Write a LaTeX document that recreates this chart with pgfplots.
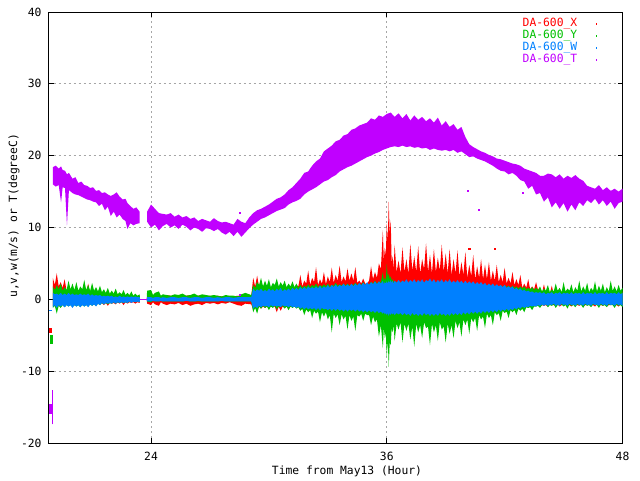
\documentclass[border=0pt]{standalone}
\usepackage{fontspec}
\setmainfont{DejaVu Sans Mono}
\usepackage{pgfplots}
\pgfplotsset{compat=1.18}
\usepgfplotslibrary{fillbetween}
\usepackage{pgfplotstable}
\definecolor{cX}{HTML}{FF0000}
\definecolor{cY}{HTML}{00C000}
\definecolor{cW}{HTML}{0080FF}
\definecolor{cT}{HTML}{C000FF}

\pgfplotstableread{
x xlo xhi ylo yhi wlo whi
19.0 -0.9 3.0 -1.2 1.8 -1.1 0.9
19.1 -0.7 2.0 -0.9 1.3 -0.8 0.7
19.2 -0.8 3.6 -2.0 2.0 -1.2 0.8
19.3 -0.7 1.8 -0.9 1.4 -0.8 0.6
19.4 -1.0 2.4 -1.2 2.2 -1.0 0.9
19.5 -0.7 1.6 -0.8 1.2 -0.8 0.6
19.6 -0.9 2.8 -1.1 1.7 -1.1 0.8
19.7 -0.7 1.2 -0.8 1.3 -0.8 0.6
19.8 -0.8 1.6 -1.0 2.6 -1.0 0.9
19.9 -0.7 1.0 -0.8 1.4 -0.8 0.6
20.0 -0.9 1.4 -1.1 2.2 -1.2 0.8
20.1 -0.7 1.0 -0.8 1.3 -0.8 0.6
20.2 -0.8 1.8 -1.0 2.4 -1.0 0.7
20.3 -0.7 0.9 -0.8 1.2 -0.8 0.6
20.4 -1.0 1.2 -1.1 1.8 -1.1 0.8
20.5 -0.7 0.9 -0.8 1.4 -0.8 0.6
20.6 -0.9 1.6 -1.0 2.7 -1.0 0.7
20.7 -0.7 1.0 -0.8 1.3 -0.8 0.6
20.8 -0.8 2.2 -1.0 2.0 -1.1 0.8
20.9 -0.6 0.8 -0.7 1.2 -0.7 0.5
21.0 -0.7 1.0 -0.9 2.3 -0.9 0.7
21.1 -0.6 0.8 -0.7 1.2 -0.7 0.5
21.2 -0.8 1.4 -0.9 1.7 -1.0 0.6
21.3 -0.6 0.7 -0.6 1.1 -0.6 0.5
21.4 -0.7 1.0 -0.8 1.9 -0.8 0.6
21.5 -0.5 0.6 -0.5 1.0 -0.5 0.4
21.6 -0.8 0.9 -0.7 1.4 -0.7 0.5
21.7 -0.5 0.6 -0.5 0.9 -0.5 0.4
21.8 -0.9 1.1 -0.7 1.6 -0.6 0.5
21.9 -0.5 0.6 -0.5 0.8 -0.5 0.4
22.0 -0.6 0.8 -0.6 1.2 -0.6 0.5
22.1 -0.5 0.5 -0.4 0.8 -0.4 0.3
22.2 -0.7 1.0 -0.6 1.5 -0.6 0.4
22.3 -0.4 0.5 -0.4 0.7 -0.4 0.3
22.4 -0.6 0.7 -0.5 1.0 -0.5 0.5
22.5 -0.4 0.5 -0.4 0.7 -0.4 0.3
22.6 -0.8 0.8 -0.5 1.3 -0.5 0.4
22.7 -0.4 0.4 -0.4 0.6 -0.4 0.3
22.8 -0.6 0.6 -0.5 0.9 -0.5 0.4
22.9 -0.4 0.4 -0.3 0.6 -0.3 0.3
23.0 -0.5 0.7 -0.4 1.1 -0.5 0.4
23.1 -0.4 0.4 -0.3 0.5 -0.3 0.3
23.2 -0.6 0.6 -0.4 0.8 -0.4 0.4
23.3 -0.4 0.4 -0.3 0.5 -0.3 0.3
23.42 -0.5 0.5 -0.4 0.7 -0.4 0.3
23.44 0 0 0 0 0 0
23.78 0 0 0 0 0 0
23.8 -0.6 0.4 -0.3 1.2 -0.3 0.3
24.0 -0.8 0.5 -0.4 1.3 -0.3 0.3
24.1 -0.4 0.3 -0.2 0.6 -0.2 0.2
24.2 -0.7 0.4 -0.3 0.9 -0.3 0.3
24.4 -0.9 0.5 -0.3 1.1 -0.3 0.3
24.5 -0.4 0.3 -0.2 0.5 -0.2 0.2
24.6 -0.6 0.4 -0.3 0.7 -0.3 0.3
24.8 -0.8 0.6 -0.3 0.6 -0.3 0.2
25.0 -0.6 0.5 -0.3 0.5 -0.3 0.3
25.2 -0.7 0.4 -0.3 0.7 -0.3 0.3
25.4 -0.5 0.5 -0.3 0.6 -0.3 0.2
25.6 -0.8 0.4 -0.3 0.8 -0.3 0.3
25.8 -0.6 0.5 -0.2 0.5 -0.2 0.3
26.0 -0.9 0.6 -0.3 0.6 -0.3 0.2
26.2 -0.7 0.4 -0.3 0.8 -0.3 0.3
26.4 -0.6 0.5 -0.3 0.5 -0.2 0.3
26.6 -0.8 0.6 -0.3 0.7 -0.3 0.2
26.8 -0.5 0.4 -0.3 0.6 -0.3 0.3
27.0 -0.6 0.5 -0.3 0.5 -0.3 0.3
27.2 -0.5 0.4 -0.3 0.6 -0.3 0.2
27.4 -0.7 0.5 -0.3 0.5 -0.3 0.3
27.6 -0.5 0.4 -0.2 0.4 -0.2 0.2
27.8 -0.6 0.5 -0.3 0.6 -0.3 0.3
28.0 -0.4 0.4 -0.3 0.5 -0.3 0.3
28.2 -0.6 0.4 -0.3 0.5 -0.3 0.2
28.4 -0.8 0.5 -0.3 0.4 -0.3 0.3
28.6 -0.9 0.4 -0.3 0.7 -0.3 0.3
28.8 -0.6 0.5 -0.3 0.9 -0.3 0.3
29.1 -0.7 0.4 -0.3 0.6 -0.3 0.3
29.2 -1.4 3.0 -1.8 2.0 -1.3 1.5
29.3 -1.0 1.8 -1.2 1.6 -1.0 1.1
29.4 -1.5 3.3 -2.0 2.4 -1.2 1.4
29.5 -1.0 1.7 -1.0 2.0 -0.9 1.2
29.6 -1.3 2.2 -1.3 3.0 -1.1 1.5
29.7 -1.0 1.3 -0.9 1.8 -0.9 1.1
29.8 -1.2 1.6 -1.2 2.6 -1.0 1.3
29.9 -1.0 1.1 -1.0 1.9 -0.9 1.1
30.0 -1.0 1.4 -1.5 2.8 -1.1 1.5
30.1 -1.0 1.2 -1.0 1.7 -0.8 1.2
30.2 -1.1 1.8 -1.2 2.3 -1.0 1.4
30.3 -1.0 1.3 -0.9 2.0 -0.9 1.1
30.4 -1.8 1.2 -1.4 2.9 -1.0 1.5
30.5 -1.0 1.2 -1.0 1.8 -0.9 1.2
30.6 -1.6 2.0 -1.1 2.4 -1.1 1.6
30.7 -1.0 1.3 -0.9 1.9 -0.8 1.1
30.8 -1.2 1.5 -1.3 2.6 -1.0 1.4
30.9 -1.0 1.2 -1.0 1.7 -0.9 1.2
31.0 -1.4 1.8 -1.5 2.2 -1.1 1.5
31.1 -1.0 1.5 -1.0 1.8 -0.9 1.2
31.2 -1.0 2.4 -1.2 2.5 -1.1 1.6
31.3 -1.0 1.4 -1.0 1.7 -1.0 1.3
31.4 -1.1 2.0 -1.3 2.2 -1.2 1.6
31.5 -1.0 1.8 -1.1 1.6 -1.0 1.3
31.6 -1.2 3.4 -1.6 2.0 -1.3 1.7
31.7 -1.0 1.8 -1.3 1.6 -1.1 1.4
31.8 -1.1 2.6 -2.2 1.9 -1.4 1.7
31.9 -1.0 2.2 -1.4 1.7 -1.1 1.4
32.0 -1.0 4.0 -1.8 2.1 -1.4 1.8
32.1 -1.0 2.0 -1.5 1.7 -1.2 1.5
32.2 -1.2 3.0 -2.6 2.0 -1.4 1.7
32.3 -1.0 2.4 -1.6 1.8 -1.2 1.5
32.4 -1.1 4.5 -2.0 2.2 -1.5 1.8
32.5 -1.0 2.0 -1.7 1.7 -1.2 1.5
32.6 -1.3 2.8 -3.2 2.0 -1.5 1.9
32.7 -1.0 2.2 -1.8 1.8 -1.2 1.5
32.8 -1.0 3.8 -2.4 2.1 -1.4 1.8
32.9 -1.0 2.1 -1.8 1.8 -1.3 1.6
33.0 -1.2 3.2 -2.8 2.2 -1.5 2.0
33.1 -1.0 2.4 -2.2 1.8 -1.3 1.6
33.2 -1.3 4.4 -4.6 2.0 -1.6 2.0
33.3 -1.0 2.3 -2.0 1.9 -1.3 1.7
33.4 -1.1 3.4 -2.6 2.3 -1.6 2.1
33.5 -1.0 2.6 -2.1 1.9 -1.3 1.7
33.6 -1.2 4.7 -3.6 2.1 -1.6 2.0
33.7 -1.0 2.4 -2.1 1.9 -1.4 1.8
33.8 -1.3 3.2 -2.8 2.2 -1.7 2.2
33.9 -1.0 2.5 -2.3 1.9 -1.4 1.8
34.0 -1.2 4.3 -4.2 2.2 -1.7 2.1
34.1 -1.0 2.6 -2.2 1.9 -1.4 1.8
34.2 -1.1 3.6 -3.0 2.1 -1.6 2.2
34.3 -1.0 2.6 -2.4 2.0 -1.4 1.8
34.4 -1.4 4.5 -4.4 2.3 -1.7 2.2
34.5 -1.0 2.3 -2.2 2.0 -1.4 1.9
34.6 -1.2 2.6 -2.4 2.2 -1.7 2.3
34.7 -1.0 2.2 -2.0 2.0 -1.5 1.9
34.8 -1.3 2.9 -3.0 2.4 -1.8 2.3
34.9 -1.0 2.2 -2.0 2.0 -1.5 2.0
35.0 -1.2 2.2 -2.2 2.2 -1.8 2.4
35.1 -1.0 2.6 -2.2 2.1 -1.5 2.0
35.2 -1.4 4.6 -3.6 2.4 -1.8 2.4
35.3 -1.1 2.8 -2.4 2.2 -1.6 2.1
35.4 -1.3 3.8 -3.2 2.6 -1.9 2.5
35.5 -1.1 3.0 -2.8 2.2 -1.6 2.1
35.6 -1.4 5.0 -5.2 2.5 -1.9 2.5
35.7 -1.2 4.2 -3.6 2.4 -1.7 2.2
35.8 -1.5 9.6 -6.8 3.8 -2.0 2.6
35.85 -1.2 5.4 -4.0 2.6 -1.8 2.1
35.9 -1.6 7.2 -5.4 3.0 -2.1 2.4
35.95 -1.2 6.0 -4.6 2.6 -1.9 2.2
36.0 -1.6 10.5 -8.0 4.9 -2.2 2.5
36.05 -1.3 8.0 -5.6 3.0 -1.9 2.2
36.1 -1.8 13.6 -9.4 3.6 -2.3 2.6
36.15 -1.3 9.0 -6.0 2.8 -1.9 2.3
36.2 -1.6 11.0 -6.4 3.2 -2.2 2.7
36.25 -1.2 5.0 -4.0 2.6 -1.9 2.3
36.3 -1.5 6.0 -4.6 2.8 -2.1 2.6
36.35 -1.2 4.2 -3.6 2.4 -1.9 2.2
36.4 -1.4 7.6 -5.8 2.6 -2.2 2.6
36.5 -1.2 3.8 -3.4 2.3 -1.9 2.3
36.6 -1.5 5.4 -4.2 2.5 -2.1 2.7
36.7 -1.2 3.6 -3.2 2.3 -1.9 2.3
36.8 -1.4 7.2 -6.0 2.6 -2.2 2.6
36.9 -1.2 3.8 -3.4 2.3 -1.9 2.4
37.0 -1.5 5.6 -4.4 2.5 -2.2 2.8
37.1 -1.2 3.6 -3.4 2.3 -2.0 2.3
37.2 -1.6 7.7 -5.6 2.6 -2.3 2.7
37.3 -1.2 4.0 -3.8 2.3 -1.9 2.4
37.4 -1.4 6.0 -6.6 2.5 -2.2 2.8
37.5 -1.2 3.8 -3.4 2.3 -2.0 2.3
37.6 -1.5 7.4 -4.6 2.6 -2.3 2.7
37.7 -1.2 3.6 -3.6 2.3 -2.0 2.4
37.8 -1.6 5.6 -5.4 2.5 -2.3 2.8
37.9 -1.2 4.2 -3.2 2.3 -1.9 2.3
38.0 -1.4 7.8 -4.0 2.6 -2.2 2.7
38.1 -1.2 3.8 -3.8 2.3 -2.0 2.5
38.2 -1.5 6.2 -6.4 2.5 -2.3 2.9
38.3 -1.2 3.6 -3.4 2.3 -2.0 2.4
38.4 -1.6 7.0 -4.6 2.6 -2.3 2.8
38.5 -1.2 3.8 -3.6 2.3 -2.0 2.3
38.6 -1.5 5.8 -5.8 2.5 -2.3 2.7
38.7 -1.2 4.0 -3.2 2.3 -1.9 2.4
38.8 -1.4 7.6 -4.2 2.6 -2.2 2.8
38.9 -1.2 3.8 -3.8 2.3 -2.0 2.3
39.0 -1.6 6.4 -6.0 2.5 -2.3 2.7
39.1 -1.2 3.6 -3.4 2.3 -2.0 2.4
39.2 -1.5 7.0 -4.8 2.6 -2.3 2.8
39.3 -1.2 3.4 -3.6 2.2 -1.9 2.3
39.4 -1.4 5.6 -5.4 2.5 -2.2 2.6
39.5 -1.2 3.6 -3.0 2.2 -1.9 2.3
39.6 -1.5 6.8 -4.0 2.4 -2.2 2.7
39.7 -1.2 3.2 -3.2 2.1 -1.9 2.3
39.8 -1.4 5.2 -5.2 2.4 -2.2 2.6
39.9 -1.2 3.4 -2.8 2.1 -1.8 2.2
40.0 -1.5 6.6 -3.6 2.4 -2.1 2.6
40.1 -1.2 3.0 -2.8 2.1 -1.8 2.2
40.2 -1.4 4.8 -4.8 2.3 -2.1 2.5
40.3 -1.2 3.2 -2.6 2.0 -1.7 2.2
40.4 -1.5 6.2 -3.2 2.3 -2.0 2.5
40.5 -1.2 2.8 -2.6 2.0 -1.7 2.1
40.6 -1.4 4.6 -4.4 2.2 -2.0 2.4
40.7 -1.2 3.0 -2.2 1.9 -1.7 2.1
40.8 -1.3 5.6 -2.8 2.2 -2.0 2.4
40.9 -1.2 2.8 -2.4 1.9 -1.6 2.0
41.0 -1.4 4.8 -4.0 2.2 -1.9 2.3
41.1 -1.1 2.8 -2.0 1.9 -1.6 1.9
41.2 -1.3 5.2 -2.6 2.1 -1.9 2.2
41.3 -1.1 2.6 -2.2 1.8 -1.5 1.9
41.4 -1.3 4.0 -3.6 2.1 -1.8 2.2
41.5 -1.1 2.6 -1.8 1.8 -1.5 1.8
41.6 -1.2 4.8 -2.2 2.0 -1.8 2.1
41.7 -1.1 2.4 -1.9 1.7 -1.4 1.8
41.8 -1.3 3.4 -3.0 2.0 -1.7 2.0
41.9 -1.1 2.4 -1.6 1.7 -1.4 1.7
42.0 -1.2 4.4 -1.9 2.0 -1.6 2.0
42.1 -1.0 2.2 -1.7 1.7 -1.3 1.6
42.2 -1.2 3.0 -2.6 1.9 -1.6 1.8
42.3 -1.0 2.2 -1.5 1.6 -1.3 1.6
42.4 -1.1 3.8 -1.8 1.9 -1.5 1.8
42.5 -1.0 2.0 -1.5 1.6 -1.2 1.4
42.6 -1.1 2.8 -2.2 1.8 -1.4 1.6
42.7 -1.0 2.0 -1.3 1.5 -1.1 1.3
42.8 -1.0 3.4 -1.6 1.8 -1.3 1.5
42.9 -0.9 1.6 -1.3 1.5 -1.0 1.2
43.0 -1.0 2.2 -1.8 1.8 -1.2 1.3
43.1 -0.9 1.6 -1.1 1.4 -1.0 1.1
43.2 -1.0 2.8 -1.2 1.6 -1.1 1.2
43.3 -0.9 1.4 -1.1 1.4 -0.9 1.0
43.4 -0.9 1.8 -1.5 1.7 -1.0 1.1
43.5 -0.9 1.4 -1.0 1.3 -0.9 0.9
43.6 -0.9 2.4 -1.0 1.6 -1.0 1.0
43.7 -0.8 1.3 -0.9 1.3 -0.8 0.9
43.8 -1.0 1.6 -1.2 1.8 -0.9 1.0
43.9 -0.8 0.8 -0.8 1.1 -0.7 0.8
44.0 -0.9 2.1 -0.8 1.5 -0.9 1.0
44.1 -0.8 0.9 -0.7 1.2 -0.7 0.7
44.2 -1.0 1.4 -1.1 2.0 -0.9 0.9
44.3 -0.7 0.8 -0.8 1.0 -0.7 0.8
44.4 -0.8 1.9 -0.9 1.4 -0.8 1.0
44.5 -0.8 0.7 -0.7 1.1 -0.6 0.7
44.6 -0.9 1.2 -1.2 2.2 -0.9 0.9
44.7 -0.7 0.8 -0.8 1.2 -0.7 0.8
44.8 -1.0 1.6 -0.8 1.6 -0.9 1.0
44.9 -0.8 0.7 -0.7 1.0 -0.6 0.7
45.0 -0.8 1.0 -1.0 2.4 -0.8 0.9
45.1 -0.7 0.8 -0.8 1.1 -0.7 0.8
45.2 -0.9 1.4 -1.3 1.5 -0.9 0.9
45.3 -0.8 0.7 -0.7 1.2 -0.6 0.7
45.4 -1.0 0.9 -0.9 2.1 -0.8 1.0
45.5 -0.7 0.8 -0.8 1.0 -0.7 0.7
45.6 -0.8 1.3 -1.1 1.7 -0.9 0.9
45.7 -0.8 0.7 -0.7 1.2 -0.6 0.8
45.8 -0.9 0.8 -0.8 2.6 -0.8 0.9
45.9 -0.7 0.7 -0.8 1.1 -0.7 0.7
46.0 -1.0 1.2 -1.2 1.8 -0.9 1.0
46.1 -0.8 0.7 -0.7 1.2 -0.6 0.7
46.2 -0.8 0.9 -0.9 2.3 -0.8 0.9
46.3 -0.7 0.7 -0.8 1.0 -0.7 0.8
46.4 -0.9 1.1 -1.1 1.6 -0.9 0.9
46.5 -0.8 0.7 -0.7 1.2 -0.6 0.7
46.6 -1.0 0.8 -0.8 2.5 -0.8 1.0
46.7 -0.7 0.7 -0.8 1.1 -0.7 0.7
46.8 -0.8 1.0 -1.2 1.9 -0.9 0.9
46.9 -0.8 0.7 -0.7 1.2 -0.6 0.8
47.0 -0.9 0.9 -0.9 2.2 -0.8 0.9
47.1 -0.7 0.7 -0.8 1.0 -0.7 0.7
47.2 -1.0 1.2 -1.1 1.7 -0.9 1.0
47.3 -0.8 0.7 -0.7 1.1 -0.6 0.7
47.4 -0.8 0.8 -0.8 2.6 -0.8 0.9
47.5 -0.7 0.7 -0.8 1.2 -0.7 0.8
47.6 -0.9 1.0 -1.2 1.8 -0.9 0.9
47.7 -0.8 0.7 -0.7 1.1 -0.6 0.7
47.8 -1.0 0.9 -0.9 2.0 -0.8 1.0
47.9 -0.7 0.7 -0.8 1.2 -0.7 0.7
48.0 -0.9 1.1 -1.1 1.6 -0.9 0.9
}\wind

\pgfplotstableread{
x lo hi
19.00 16.0 18.4
19.15 15.7 18.6
19.30 15.9 18.2
19.42 13.5 18.5
19.50 15.6 18.0
19.62 15.5 17.9
19.72 10.3 17.4
19.82 15.2 17.6
20.00 14.8 16.8
20.15 14.6 17.0
20.30 14.5 16.2
20.45 14.3 16.4
20.60 14.1 15.9
20.75 13.9 15.8
20.90 13.8 15.5
21.05 13.6 15.6
21.20 13.5 15.1
21.35 13.0 15.2
21.50 13.3 14.8
21.65 12.4 14.9
21.80 12.9 14.6
21.95 11.6 14.4
22.10 12.2 14.6
22.25 11.4 14.9
22.40 11.8 14.3
22.55 11.2 13.9
22.70 10.9 14.0
22.80 9.8 13.4
22.95 10.6 13.0
23.10 10.3 12.6
23.25 10.5 12.8
23.42 10.6 12.2
}\TA

\pgfplotstableread{
x lo hi
23.8 10.8 12.2
24.0 10.0 13.2
24.2 10.4 12.6
24.4 9.6 12.0
24.6 10.2 11.9
24.8 10.5 11.8
25.0 10.0 12.0
25.2 10.3 11.5
25.4 9.8 11.8
25.6 10.4 11.4
25.8 10.1 11.6
26.0 9.6 11.2
26.2 10.0 11.4
26.4 9.8 10.9
26.6 9.4 11.2
26.8 9.9 11.0
27.0 9.8 10.8
27.2 9.5 11.3
27.4 9.8 10.9
27.6 9.3 10.7
27.8 9.0 10.8
28.0 9.4 10.6
28.2 8.8 10.4
28.4 9.4 11.2
28.6 8.7 10.8
28.8 9.3 10.6
29.0 9.9 11.4
29.2 10.4 12.0
29.4 10.8 12.4
29.6 11.2 12.6
29.8 11.4 12.9
30.0 11.7 13.2
30.2 12.0 13.6
30.4 12.3 14.0
30.6 12.5 14.2
30.8 12.7 14.6
31.0 13.2 15.2
31.2 13.5 15.6
31.4 13.7 16.2
31.6 14.0 16.8
31.8 14.6 17.6
32.0 15.0 17.8
32.2 15.3 18.6
32.4 15.6 19.2
32.6 16.0 19.6
32.8 16.4 20.6
33.0 16.6 21.0
33.2 17.0 21.4
33.4 17.3 22.0
33.6 17.8 22.2
33.8 18.1 22.8
34.0 18.4 23.0
34.2 18.6 23.6
34.4 18.9 23.8
34.6 19.2 24.2
34.8 19.5 24.4
35.0 19.8 24.6
35.2 20.0 25.2
35.4 20.3 25.0
35.6 20.5 25.6
35.8 20.8 25.4
36.0 21.0 25.8
36.2 21.2 26.0
36.4 21.3 25.4
36.6 21.2 25.9
36.8 21.4 25.2
37.0 21.2 25.8
37.2 21.3 24.9
37.4 21.1 25.6
37.6 21.2 25.0
37.8 21.0 25.4
38.0 21.1 24.8
38.2 20.8 25.2
38.4 21.0 24.6
38.6 20.8 25.3
38.8 20.7 24.2
39.0 20.8 24.8
39.2 20.6 24.0
39.4 20.8 24.4
39.6 20.4 23.6
39.8 20.6 24.0
40.0 20.2 22.6
40.2 19.8 21.6
40.4 19.9 21.2
40.6 19.6 20.9
40.8 19.4 20.6
41.0 19.2 20.4
41.2 18.9 20.1
41.4 18.6 19.9
41.6 18.2 19.6
41.8 17.9 19.5
42.0 17.8 19.3
42.2 17.4 19.1
42.4 17.6 18.9
42.6 17.2 18.8
42.8 16.6 18.6
43.0 16.4 18.2
43.2 15.4 18.0
43.4 15.8 17.8
43.6 14.6 17.6
43.8 14.8 17.2
44.0 13.6 17.2
44.2 14.2 17.5
44.4 12.8 17.4
44.6 13.5 17.0
44.8 12.6 17.4
45.0 13.4 16.8
45.2 12.2 17.2
45.4 13.2 16.9
45.6 12.4 17.3
45.8 13.5 16.8
46.0 13.0 16.5
46.2 13.8 15.8
46.4 13.4 15.6
46.6 14.0 15.4
46.8 13.2 15.9
47.0 13.8 15.2
47.2 13.0 15.6
47.4 13.6 15.1
47.6 12.6 15.4
47.8 13.4 15.0
48.0 13.6 15.4
}\TB

\begin{document}
\begin{tikzpicture}[font=\fontsize{8.5}{10}\selectfont]
\path (0,0) rectangle (480pt,360pt);
\begin{axis}[
  at={(36.375pt,27.75pt)}, anchor=south west,
  scale only axis, width=430.5pt, height=323.25pt,
  xmin=18.78, xmax=48, ymin=-20, ymax=40,
  xtick={24,36,48}, xticklabels={24,36,48},
  ytick={-20,-10,0,10,20,30,40}, yticklabels={-20,-10,0,10,20,30,40},
  tick align=inside, major tick length=3.75pt,
  tick style={black, line width=0.75pt},
  axis line style={black, line width=0.75pt},
  grid=major,
  grid style={gray!70, line width=0.75pt, dash pattern=on 1.5pt off 2.25pt},
  xticklabel style={anchor=north, inner sep=0pt, yshift=-6.5pt},
  yticklabel style={anchor=east, inner sep=0pt, xshift=-5pt},
  xlabel={Time from May13 (Hour)},
  xlabel style={at={(axis description cs:0.52,-0.065)}, anchor=center, inner sep=0pt},
  ylabel={u,v,w(m/s) or T(degreeC)},
  ylabel style={at={(axis description cs:-0.060,0.527)}, anchor=center, inner sep=0pt},
  legend style={draw=none, fill=none, at={(axis description cs:0.9556,0.988)},
    anchor=north east, inner sep=0pt, row sep=0pt, column sep=14pt,
    nodes={inner sep=0pt, text height=6.5pt, text depth=2.5pt},
    font=\fontsize{8.5}{10}\selectfont},
  legend cell align=right, legend plot pos=right,
]
% wind X
\addplot[draw=none, name path=xh, forget plot] table[x=x, y=xhi]{\wind};
\addplot[draw=none, name path=xl, forget plot] table[x=x, y=xlo]{\wind};
\addplot[fill=cX, draw=none, forget plot] fill between[of=xh and xl];
% wind Y
\addplot[draw=none, name path=yh, forget plot] table[x=x, y=yhi]{\wind};
\addplot[draw=none, name path=yl, forget plot] table[x=x, y=ylo]{\wind};
\addplot[fill=cY, draw=none, forget plot] fill between[of=yh and yl];
% wind W
\addplot[draw=none, name path=wh, forget plot] table[x=x, y=whi]{\wind};
\addplot[draw=none, name path=wl, forget plot] table[x=x, y=wlo]{\wind};
\addplot[fill=cW, draw=none, forget plot] fill between[of=wh and wl];
% initial transient
\addplot[fill=cX, draw=none, forget plot] coordinates {(18.78,-4.7) (18.98,-4.7) (18.98,-4.0) (18.78,-4.0)};
\addplot[fill=cY, draw=none, forget plot] coordinates {(18.84,-6.2) (18.99,-6.2) (18.99,-5.0) (18.84,-5.0)};
\addplot[cW, line width=0.75pt, forget plot] coordinates {(18.78,-1.6) (18.98,-1.6)};
\addplot[cX, only marks, mark=square*, mark size=0.4pt, forget plot] coordinates {(40.2,7.1) (41.5,7.1)};
% temperature
\addplot[draw=none, name path=tah, forget plot] table[x=x, y=hi]{\TA};
\addplot[draw=none, name path=tal, forget plot] table[x=x, y=lo]{\TA};
\addplot[fill=cT, draw=none, forget plot] fill between[of=tah and tal];
\addplot[draw=none, name path=tbh, forget plot] table[x=x, y=hi]{\TB};
\addplot[draw=none, name path=tbl, forget plot] table[x=x, y=lo]{\TB};
\addplot[fill=cT, draw=none, forget plot] fill between[of=tbh and tbl];
\addplot[fill=cT, draw=none, forget plot] coordinates {(18.80,-16.0) (18.95,-16.0) (18.95,-14.6) (18.80,-14.6)};
\addplot[cT, line width=0.75pt, forget plot] coordinates {(18.97,-17.4) (18.97,-12.6)};
\addplot[cT, line width=0.75pt, forget plot] coordinates {(23.42,0) (23.8,0)};
\addplot[cT, only marks, mark=square*, mark size=0.4pt, forget plot] coordinates {(40.1,15.1) (40.7,12.5) (42.9,14.8) (28.5,12.1) (28.5,0.6)};
% legend
\addlegendimage{only marks, mark=square*, mark size=0.3pt, cX}
\addlegendentry{\textcolor{cX}{DA-600\_X}}
\addlegendimage{only marks, mark=square*, mark size=0.3pt, cY}
\addlegendentry{\textcolor{cY}{DA-600\_Y}}
\addlegendimage{only marks, mark=square*, mark size=0.3pt, cW}
\addlegendentry{\textcolor{cW}{DA-600\_W}}
\addlegendimage{only marks, mark=square*, mark size=0.3pt, cT}
\addlegendentry{\textcolor{cT}{DA-600\_T}}
\end{axis}
\end{tikzpicture}
\end{document}
